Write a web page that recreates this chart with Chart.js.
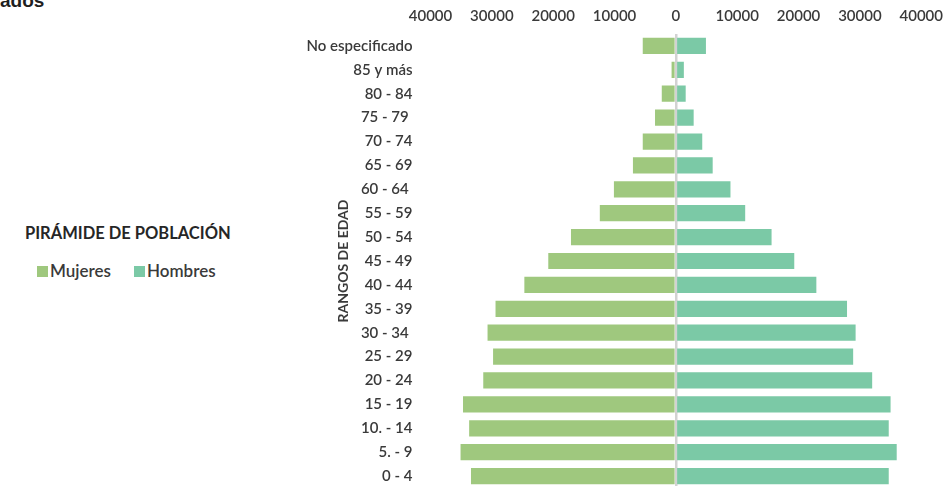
<!DOCTYPE html>
<html lang="es">
<head>
<meta charset="utf-8">
<title>Pirámide de población</title>
<script src="https://cdn.jsdelivr.net/npm/chart.js@4.4.1/dist/chart.umd.min.js"></script>
<style>
  html, body { margin: 0; padding: 0; overflow: hidden; background: #fff; }
  body { width: 952px; height: 486px; position: relative; font-family: Lato, sans-serif; color: #404040; }
  /* taller than the window: the chart area has to reach y=488, just below the picture */
  #chartBox { position: absolute; left: 0; top: 0; width: 952px; height: 515px; }
  #heading { position: absolute; left: 0; top: -9px; font: bold 19px "Liberation Sans", Arial, sans-serif; line-height: 19px; color: #1f1f1f; }
  #pyramidTitle { position: absolute; left: 25px; top: 223px; font: bold 16.5px Lato, sans-serif; line-height: 20px; color: #262626; }
  #legend { position: absolute; left: 37px; top: 261px; display: flex; font: 600 17px Lato, sans-serif; line-height: 20px; color: #3a3a3a; }
  #legend .item { display: flex; align-items: center; margin-right: 23px; }
  #legend .box { width: 11px; height: 11px; margin-right: 2px; }
</style>
</head>
<body>
<div id="heading">ados</div>
<div id="pyramidTitle">PIRÁMIDE DE POBLACIÓN</div>
<div id="legend"></div>
<div id="chartBox"><canvas id="pyramidChart"></canvas></div>

<script>
// ------------------------------------------------------------
// Data (people per age range)
// ------------------------------------------------------------
const ageRanges = [
  "No especificado", "85 y más", "80 - 84", "75 - 79 ", "70 - 74", "65 - 69",
  "60 - 64 ", "55 - 59", "50 - 54", "45 - 49", "40 - 44", "35 - 39",
  "30 - 34 ", "25 - 29", "20 - 24", "15 - 19", "10. - 14", "5. - 9", "0 - 4",
];

const mujeres = [
  5400, 700, 2300, 3400, 5400, 7000,
  10100, 12400, 17100, 20800, 24700, 29400,
  30700, 29800, 31400, 34700, 33700, 35100, 33400,
];

const hombres = [
  4900, 1300, 1600, 2900, 4300, 6000,
  8900, 11300, 15600, 19300, 22900, 27900,
  29300, 28900, 32000, 35000, 34700, 36000, 34700,
];

const axisMin = -40000;
const axisMax = 40000;
const axisStep = 10000;

const COLORS = {
  mujeres: "#9fc87e",
  hombres: "#7bc9a6",
  text: "#3a3a3a",
  zeroLine: "#d2d2d2",
};

const FONT = "Lato";

const buildChartConfig = () => ({
  type: "bar",
  data: {
    labels: ageRanges,
    datasets: [
      {
        label: "Mujeres",
        data: mujeres.map((v) => -v),
        backgroundColor: COLORS.mujeres,
        borderWidth: 0,
        barPercentage: 0.68,
        categoryPercentage: 1,
      },
      {
        label: "Hombres",
        data: hombres,
        backgroundColor: COLORS.hombres,
        borderWidth: 0,
        barPercentage: 0.68,
        categoryPercentage: 1,
      },
    ],
  },
  options: {
    indexAxis: "y",
    responsive: true,
    maintainAspectRatio: false,
    animation: false,
    layout: { padding: { left: 300, right: 28.25, top: 0, bottom: 0 } },
    scales: {
      x: {
        position: "top",
        stacked: true,
        min: axisMin,
        max: axisMax,
        z: 1,
        ticks: {
          stepSize: axisStep,
          padding: 9,
          color: COLORS.text,
          font: { family: FONT, size: 15, weight: "600" },
          callback: (value) => String(Math.abs(value)),
        },
        grid: {
          drawTicks: false,
          lineWidth: 2.5,
          color: (ctx) => (ctx.tick && ctx.tick.value === 0 ? COLORS.zeroLine : "rgba(0,0,0,0)"),
        },
        border: { display: false },
        afterFit: (scale) => { scale.height = 34; },
      },
      y: {
        stacked: true,
        ticks: {
          padding: 18,
          color: COLORS.text,
          font: { family: FONT, size: 15, weight: "600" },
        },
        grid: { display: false, drawTicks: false },
        border: { display: false },
        title: {
          display: true,
          text: "RANGOS DE EDAD",
          color: COLORS.text,
          padding: { top: 34.6, bottom: 0 },
          font: { family: FONT, size: 14, weight: "bold" },
        },
        afterFit: (scale) => { scale.width = 130.5; },
      },
    },
    plugins: {
      legend: { display: false },
      tooltip: {
        callbacks: {
          label: (ctx) => ` ${ctx.dataset.label}: ${Math.abs(ctx.parsed.x)}`,
        },
      },
    },
  },
});

// legend sits at the left of the picture, in one row, so it is built in HTML
const renderLegend = (chart) => {
  const box = document.getElementById("legend");
  const items = Chart.defaults.plugins.legend.labels.generateLabels(chart);
  box.innerHTML = "";
  items.forEach((item) => {
    const el = document.createElement("div");
    el.className = "item";
    el.innerHTML = `<span class="box" style="background:${item.fillStyle}"></span><span>${item.text}</span>`;
    box.appendChild(el);
  });
};

const renderPyramid = () => {
  const canvas = document.getElementById("pyramidChart");
  if (!canvas) return;
  const chart = new Chart(canvas.getContext("2d"), buildChartConfig());
  renderLegend(chart);
};

renderPyramid();
</script>
</body>
</html>
